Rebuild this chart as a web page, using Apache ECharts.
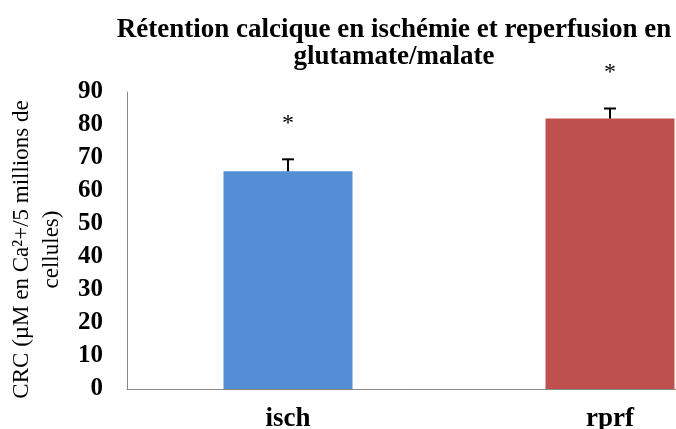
<!DOCTYPE html>
<html>
<head>
<meta charset="utf-8">
<script src="https://cdn.jsdelivr.net/npm/echarts@6/dist/echarts.min.js"></script>
<style>
  html, body { margin: 0; padding: 0; background: #ffffff; }
  #chart { width: 676px; height: 429px; }
</style>
</head>
<body>
<div id="chart"></div>
<script>
// Calcium retention capacity per condition
const categories = ['isch', 'rprf'];
const crcValues = [66, 82];
const crcErrors = [3.6, 3];
const significance = ['*', '*'];
const barColors = ['#558ED5', '#C0504D'];
const yTickLabels = ['0', '10', '20', '30', '40', '50', '60', '70', '80', '90'];

const serif = '"Liberation Serif", "Times New Roman", serif';

const chart = echarts.init(document.getElementById('chart'), null, { renderer: 'canvas' });

chart.setOption({
  backgroundColor: '#ffffff',
  animation: false,
  title: {
    text: 'Rétention calcique en ischémie et reperfusion en\nglutamate/malate',
    left: 389,
    top: 12,
    textAlign: 'center',
    textStyle: {
      fontFamily: serif,
      fontWeight: 'bold',
      fontSize: 27,
      lineHeight: 27,
      color: '#000000'
    }
  },
  grid: {
    left: 127,
    top: 92,
    bottom: 40,
    right: -95,
    containLabel: false,
    outerBoundsMode: 'none'
  },
  xAxis: {
    type: 'category',
    data: categories,
    axisLine: { show: true, lineStyle: { color: '#8a8a8a', width: 1 } },
    axisTick: { show: false },
    axisLabel: {
      margin: 17,
      fontFamily: serif,
      fontWeight: 'bold',
      fontSize: 27,
      color: '#000000'
    },
    splitLine: { show: false }
  },
  yAxis: {
    type: 'value',
    min: 0,
    max: 90,
    interval: 10,
    name: 'CRC (µM en Ca²+/5 millions de\ncellules)',
    nameLocation: 'middle',
    nameGap: 59,
    nameRotate: 90,
    nameTextStyle: {
      fontFamily: serif,
      fontSize: 23,
      lineHeight: 30,
      color: '#000000',
      padding: [0, 18, 0, 0]
    },
    axisLine: { show: true, lineStyle: { color: '#8a8a8a', width: 1 } },
    axisTick: { show: false },
    splitLine: { show: false },
    axisLabel: {
      margin: 24,
      fontFamily: serif,
      fontWeight: 'bold',
      fontSize: 25,
      color: '#000000',
      formatter: function (v) { return yTickLabels[Math.round(v / 10)]; }
    }
  },
  series: [
    {
      type: 'bar',
      barWidth: 129,
      data: crcValues.map(function (v, i) {
        return { value: v, itemStyle: { color: barColors[i] } };
      })
    },
    {
      // upper error bars with significance marks
      type: 'custom',
      data: crcValues.map(function (v, i) { return [i, v, crcErrors[i]]; }),
      z: 5,
      renderItem: function (params, api) {
        const idx = api.value(0);
        const val = api.value(1);
        const err = api.value(2);
        const base = api.coord([idx, val]);
        const top = api.coord([idx, val + err]);
        const x = Math.round(base[0]);
        return {
          type: 'group',
          children: [
            {
              type: 'line',
              shape: { x1: x, y1: base[1], x2: x, y2: top[1] },
              style: { stroke: '#000000', lineWidth: 2 }
            },
            {
              type: 'line',
              shape: { x1: x - 6, y1: top[1], x2: x + 6, y2: top[1] },
              style: { stroke: '#000000', lineWidth: 2 }
            },
            {
              type: 'text',
              x: x,
              y: top[1] - 36,
              style: {
                text: significance[params.dataIndex],
                fontFamily: serif,
                fontSize: 24,
                fill: '#000000',
                align: 'center',
                verticalAlign: 'middle'
              }
            }
          ]
        };
      }
    }
  ]
});
</script>
</body>
</html>
